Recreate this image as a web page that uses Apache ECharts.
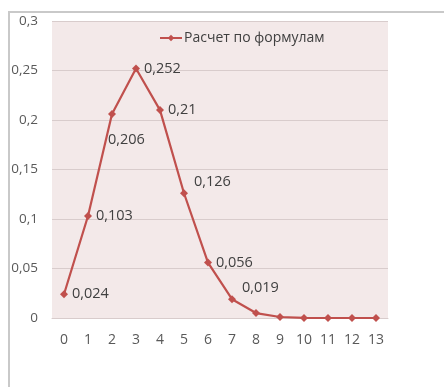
<!DOCTYPE html>
<html>
<head>
<meta charset="utf-8">
<script src="https://cdn.jsdelivr.net/npm/echarts@6/dist/echarts.min.js"></script>
<style>
  html, body { margin: 0; padding: 0; background: #fff; }
  #frame { position: absolute; left: 8px; top: 11px; width: 436px; height: 376px;
           border-left: 2px solid #c9c9c9; border-top: 2px solid #c9c9c9; }
  #chart { position: absolute; left: 0; top: 0; width: 444px; height: 387px; }
</style>
</head>
<body>
<div id="frame"></div>
<div id="chart"></div>
<script>
// Number of successes k
const categories = ['0', '1', '2', '3', '4', '5', '6', '7', '8', '9', '10', '11', '12', '13'];
// Probability P(k), computed by formula
const probabilities = [0.024, 0.103, 0.206, 0.252, 0.21, 0.126, 0.056, 0.019, 0.005, 0.001, 0.0001, 0, 0, 0];
// How many leading points carry a value label
const labelledCount = 8;
const seriesName = 'Расчет по формулам';
const yTicks = { min: 0, max: 0.3, interval: 0.05 };

// Nudges for a few labels so they sit clear of the line
const labelNudge = { 2: [-12, 26], 5: [2, -11], 7: [2, -11] };

const fmt = v => String(+Number(v).toFixed(3)).replace('.', ',');

const seriesData = probabilities.map((v, i) => {
  const item = { value: v };
  if (i < labelledCount) {
    item.label = { show: true, formatter: fmt(v) };
    if (labelNudge[i]) item.label.offset = labelNudge[i];
  } else {
    item.label = { show: false };
  }
  return item;
});

const chart = echarts.init(document.getElementById('chart'), null, { renderer: 'canvas' });
chart.setOption({
  animation: false,
  textStyle: { fontFamily: 'Open Sans' },
  grid: { left: 52, right: 56, top: 21, bottom: 69, show: true, backgroundColor: '#f3e9e9', borderWidth: 0 },
  legend: {
    data: [seriesName],
    left: 154, top: 26,
    itemWidth: 22, itemHeight: 8, itemGap: 4,
    textStyle: { color: '#404040', fontSize: 14, fontFamily: 'Open Sans', padding: [0, 0, 0, -3] }
  },
  xAxis: {
    type: 'category',
    data: categories,
    boundaryGap: true,
    axisLine: { show: true, lineStyle: { color: '#d8cccc', width: 1 } },
    axisTick: { show: false },
    axisLabel: { color: '#595959', fontSize: 14, margin: 15 },
    splitLine: { show: false }
  },
  yAxis: {
    type: 'value',
    min: yTicks.min, max: yTicks.max, interval: yTicks.interval,
    axisLine: { show: false },
    axisTick: { show: false },
    axisLabel: { color: '#595959', fontSize: 13.5, margin: 14, formatter: v => fmt(v) },
    splitLine: { show: true, lineStyle: { color: '#d8cccc', width: 1 } }
  },
  series: [{
    name: seriesName,
    type: 'line',
    data: seriesData,
    symbol: 'diamond',
    symbolSize: 8,
    lineStyle: { color: '#c0504d', width: 2.2 },
    itemStyle: { color: '#c0504d' },
    label: { position: 'right', distance: 4, color: '#404040', fontSize: 14.5 }
  }]
});
</script>
</body>
</html>
